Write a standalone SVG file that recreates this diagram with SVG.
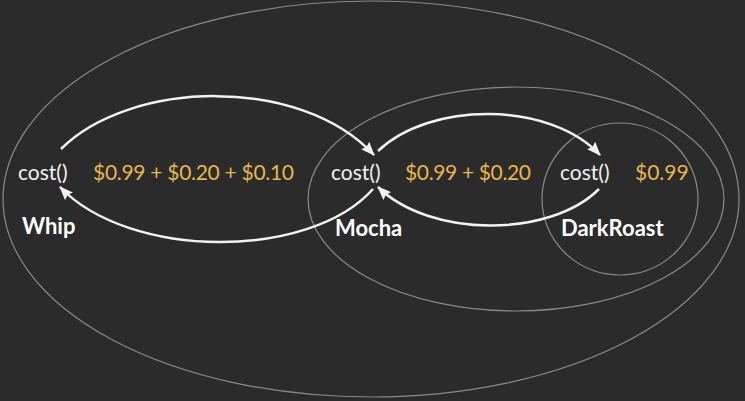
<svg xmlns="http://www.w3.org/2000/svg" width="745" height="401" viewBox="0 0 745 401">
<defs>
<style>
.ring{fill:none;stroke:#8a8a8a;stroke-width:1.2}
.arc{fill:none;stroke:#f2f2f2;stroke-width:2.5}
.m{font-family:Lato,"Open Sans",sans-serif;font-size:21px;fill:#f2f2f2}
.p{font-family:Lato,"Open Sans",sans-serif;font-size:21px;fill:#e6b64a}
.n{font-family:Lato,"Open Sans",sans-serif;font-size:22px;font-weight:bold;fill:#ffffff}
</style>
<marker id="ah" viewBox="0 0 14 11" refX="13" refY="5.5" markerWidth="14" markerHeight="11" markerUnits="userSpaceOnUse" orient="auto">
<path d="M0,0 L14,5.5 L0,11 L2,5.5 Z" fill="#f2f2f2"/>
</marker>
</defs>
<rect width="745" height="401" fill="#2b2b2b"/>
<g id="whip">
<ellipse class="ring" cx="371" cy="199" rx="368" ry="198"/>
<text class="m" x="18" y="180">cost()</text>
<text class="p" x="93" y="180" textLength="201">$0.99 + $0.20 + $0.10</text>
<text class="n" x="22" y="234">Whip</text>
</g>
<g id="mocha">
<ellipse class="ring" cx="516" cy="199" rx="208" ry="112"/>
<text class="m" x="331" y="180">cost()</text>
<text class="p" x="405" y="180" textLength="126">$0.99 + $0.20</text>
<text class="n" x="335" y="236">Mocha</text>
</g>
<g id="darkroast">
<ellipse class="ring" cx="620" cy="199" rx="78" ry="76"/>
<text class="m" x="560" y="180">cost()</text>
<text class="p" x="635" y="180">$0.99</text>
<text class="n" x="561" y="236">DarkRoast</text>
</g>
<g id="connectors">
<path class="arc" d="M61,149 C130,80 300,75 374,155" marker-end="url(#ah)"/>
<path class="arc" d="M373,189 C310,260 130,260 60,187" marker-end="url(#ah)"/>
<path class="arc" d="M378,151 C430,101 550,101 600,155" marker-end="url(#ah)"/>
<path class="arc" d="M599,189 C550,238 430,238 378,187" marker-end="url(#ah)"/>
</g>
</svg>
